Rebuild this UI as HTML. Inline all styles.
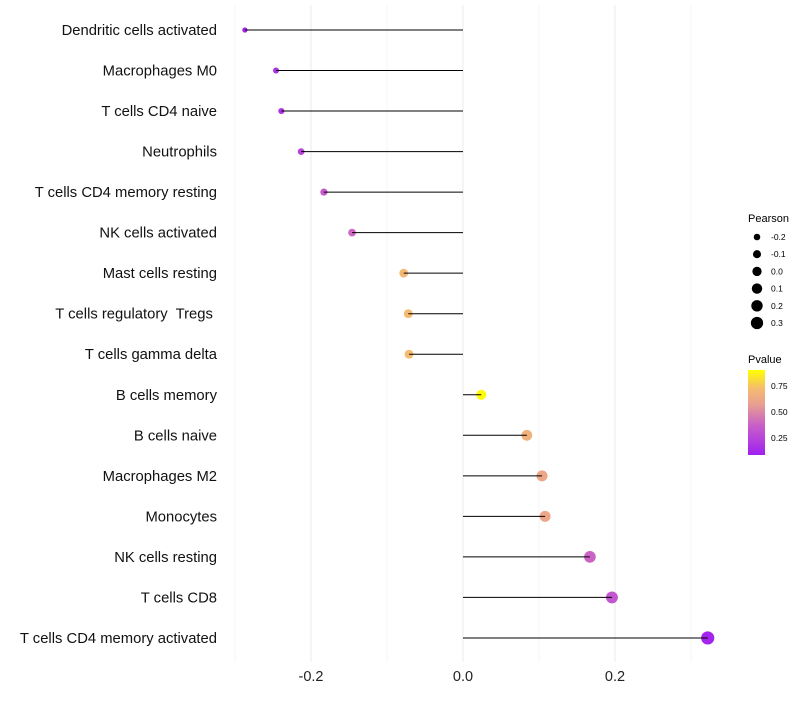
<!DOCTYPE html>
<html><head><meta charset="utf-8"><style>
body{margin:0;background:#fff;font-family:"Liberation Sans",sans-serif;}
text{white-space:pre;}
</style></head><body>
<svg id="chart" width="800" height="700" xmlns="http://www.w3.org/2000/svg">
<defs><linearGradient id="pg" x1="0" y1="1" x2="0" y2="0">
<stop offset="0" stop-color="#a020f0"/><stop offset="0.35" stop-color="#c860c8"/><stop offset="0.6" stop-color="#e8a090"/><stop offset="0.78" stop-color="#f5bb70"/><stop offset="1" stop-color="#ffff00"/></linearGradient></defs>
<g id="grid"></g><g id="marks"></g><g id="labels"></g>
<g font-size="10">
<text x="748" y="222" font-size="11">Pearson</text>
<g id="sizeleg"></g>
<text x="748" y="363" font-size="11">Pvalue</text>
<rect x="748" y="370" width="17" height="85" fill="url(#pg)"/>
<text x="771" y="389" font-size="8.5">0.75</text>
<text x="771" y="415" font-size="8.5">0.50</text>
<text x="771" y="441" font-size="8.5">0.25</text>
</g>
</svg>
<script>
const categories=["Dendritic cells activated","Macrophages M0","T cells CD4 naive","Neutrophils","T cells CD4 memory resting","NK cells activated","Mast cells resting","T cells regulatory  Tregs ","T cells gamma delta","B cells memory","B cells naive","Macrophages M2","Monocytes","NK cells resting","T cells CD8","T cells CD4 memory activated"];
const pearson=[-0.287,-0.246,-0.239,-0.213,-0.183,-0.146,-0.078,-0.072,-0.071,0.024,0.084,0.104,0.108,0.167,0.196,0.322];
const pvalues=[0.05,0.12,0.14,0.22,0.32,0.38,0.72,0.74,0.74,0.93,0.68,0.62,0.62,0.36,0.30,0.05];
const xTicks=[-0.2,0,0.2];
const xTickLabels=["-0.2","0.0","0.2"];
const sizeLegend=[-0.2,-0.1,0.0,0.1,0.2,0.3];
const NS="http://www.w3.org/2000/svg";
const x=v=>463+v*760;
const y=i=>30+i*40.53;
const r=v=>Math.sqrt(Math.max(1,24+60*v));
const stops=[[0,[160,32,240]],[0.35,[200,96,200]],[0.6,[232,160,144]],[0.78,[245,187,112]],[1,[255,255,0]]];
function col(p){let t=(p-0.03)/0.91;t=Math.max(0,Math.min(1,t));for(let k=1;k<stops.length;k++){if(t<=stops[k][0]){const a=stops[k-1],b=stops[k];const f=(t-a[0])/(b[0]-a[0]);const c=a[1].map((v,j)=>Math.round(v+(b[1][j]-v)*f));return `rgb(${c})`;}}return "rgb(255,255,0)";}
function mk(tag,at,parent){const e=document.createElementNS(NS,tag);for(const k in at)e.setAttribute(k,at[k]);document.getElementById(parent).appendChild(e);return e;}
[-0.3,-0.1,0.1,0.3].forEach(v=>{const l=mk("line",{x1:x(v),x2:x(v),y1:5,y2:662,stroke:"#f3f3f3","stroke-width":0.7},"grid");

});
xTicks.forEach((v,i)=>{const l=mk("line",{x1:x(v),x2:x(v),y1:5,y2:662,stroke:"#ebebeb","stroke-width":1},"grid");


const t=mk("text",{x:x(v),y:681,"text-anchor":"middle","font-size":14.5,fill:"#222"},"labels");t.textContent=xTickLabels[i];

});
categories.forEach((c,i)=>{
const t=mk("text",{x:217,y:y(i)+5,"text-anchor":"end","font-size":14.8,fill:"#111"},"labels");t.textContent=c;


const p=mk("circle",{cx:x(pearson[i]),cy:y(i),r:r(pearson[i]),fill:col(pvalues[i])},"marks");


const l=mk("line",{x1:x(0),x2:x(pearson[i]),y1:y(i),y2:y(i),stroke:"#000","stroke-width":1},"marks");

});
sizeLegend.forEach((v,i)=>{const yy=237+i*17.2;
const c=mk("circle",{cx:757,cy:yy,r:r(v)*0.95,fill:"#000"},"sizeleg");


const t=mk("text",{x:771,y:yy+3,"font-size":8.5},"sizeleg");t.textContent=v.toFixed(1);

});
</script>
</body></html>
